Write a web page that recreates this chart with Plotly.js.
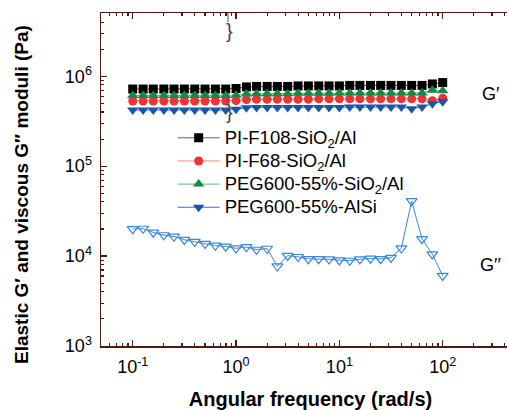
<!DOCTYPE html>
<html>
<head>
<meta charset="utf-8">
<script src="https://cdn.plot.ly/plotly-3.0.1.min.js"></script>
<style>
html,body{margin:0;padding:0;overflow:hidden;background:#fff;}
#chart{width:520px;height:410px;}
</style>
</head>
<body>
<div id="chart"></div>
<script>
// Angular frequency (rad/s)
const freq = [0.1, 0.126, 0.158, 0.2, 0.251, 0.316, 0.398, 0.501, 0.631, 0.794,
  1, 1.26, 1.58, 2, 2.51, 3.16, 3.98, 5.01, 6.31, 7.94,
  10, 12.6, 15.8, 20, 25.1, 31.6, 39.8, 50.1, 63.1, 79.4, 100];

// Elastic modulus G' (Pa)
const gF108 = [7.2e5, 7.2e5, 7.2e5, 7.2e5, 7.2e5, 7.2e5, 7.2e5, 7.2e5, 7.2e5, 7.2e5,
  7.3e5, 7.6e5, 7.7e5, 7.7e5, 7.7e5, 7.7e5, 7.8e5, 7.8e5, 7.8e5, 7.8e5,
  7.8e5, 7.9e5, 7.9e5, 7.9e5, 7.9e5, 7.9e5, 7.9e5, 7.9e5, 7.9e5, 8.2e5, 8.5e5];
const gF68 = [5.3e5, 5.3e5, 5.3e5, 5.3e5, 5.3e5, 5.3e5, 5.3e5, 5.3e5, 5.3e5, 5.3e5,
  5.35e5, 5.5e5, 5.55e5, 5.55e5, 5.55e5, 5.55e5, 5.55e5, 5.55e5, 5.6e5, 5.6e5,
  5.6e5, 5.6e5, 5.6e5, 5.6e5, 5.6e5, 5.6e5, 5.6e5, 5.6e5, 5.6e5, 5.35e5, 5.7e5];
const gPEGSiO2 = [6.1e5, 6.1e5, 6.1e5, 6.1e5, 6.1e5, 6.1e5, 6.1e5, 6.1e5, 6.1e5, 6.1e5,
  6.15e5, 6.35e5, 6.4e5, 6.4e5, 6.4e5, 6.4e5, 6.45e5, 6.45e5, 6.45e5, 6.45e5,
  6.5e5, 6.5e5, 6.5e5, 6.5e5, 6.5e5, 6.5e5, 6.5e5, 6.5e5, 6.5e5, 7.0e5, 6.9e5];
const gPEGAlSi = [4.2e5, 4.2e5, 4.2e5, 4.2e5, 4.2e5, 4.2e5, 4.2e5, 4.2e5, 4.2e5, 4.2e5,
  4.3e5, 4.45e5, 4.5e5, 4.5e5, 4.5e5, 4.5e5, 4.5e5, 4.5e5, 4.5e5, 4.5e5,
  4.5e5, 4.55e5, 4.55e5, 4.55e5, 4.55e5, 4.55e5, 4.55e5, 4.35e5, 4.55e5, 4.95e5, 5.2e5];

// Viscous modulus G'' (Pa), PEG600-55%-AlSi
const gppAlSi = [2.0e4, 2.02e4, 1.83e4, 1.71e4, 1.65e4, 1.52e4, 1.44e4, 1.37e4, 1.31e4, 1.28e4,
  1.22e4, 1.26e4, 1.18e4, 1.21e4, 7.7e3, 1.01e4, 9.8e3, 9.3e3, 9.3e3, 9.2e3,
  9.0e3, 8.9e3, 9.2e3, 9.4e3, 9.3e3, 9.6e3, 1.22e4, 4.1e4, 1.55e4, 1.05e4, 6.05e3];

const seriesNames = ['PI-F108-SiO<sub>2</sub>/Al', 'PI-F68-SiO<sub>2</sub>/Al',
  'PEG600-55%-SiO<sub>2</sub>/Al', 'PEG600-55%-AlSi'];

const xTickVals = [0.1, 1, 10, 100];
const xTickText = ['10<sup>-1</sup>', '10<sup>0</sup>', '10<sup>1</sup>', '10<sup>2</sup>'];
const yTickVals = [1e3, 1e4, 1e5, 1e6];
const yTickText = ['10<sup>3</sup>', '10<sup>4</sup>', '10<sup>5</sup>', '10<sup>6</sup>'];

function minorVals(lo, hi) {
  const v = [];
  for (let e = lo; e <= hi; e++) for (let m = 2; m <= 9; m++) v.push(m * Math.pow(10, e));
  return v;
}
const big = s => '<span style="font-size:18.5px">' + s + '</span>';

const axisColor = '#4a1c12';
const font = 'Liberation Sans, Arial, Helvetica, sans-serif';

const traces = [
  {x: freq, y: gF108, name: big(seriesNames[0]), mode: 'lines+markers',
   line: {color: '#7a5a4c', width: 1},
   marker: {symbol: 'square', size: 9, color: '#000000'}},
  {x: freq, y: gF68, name: big(seriesNames[1]), mode: 'lines+markers',
   line: {color: '#f28a78', width: 1},
   marker: {symbol: 'circle', size: 9, color: '#ee3333'}},
  {x: freq, y: gPEGSiO2, name: big(seriesNames[2]), mode: 'lines+markers',
   line: {color: '#5fb383', width: 1},
   marker: {symbol: 'triangle-up', size: 10, color: '#138a45'}},
  {x: freq, y: gPEGAlSi, name: big(seriesNames[3]), mode: 'lines+markers',
   line: {color: '#3d6fc0', width: 1},
   marker: {symbol: 'triangle-down', size: 10, color: '#1a55a8'}},
  {x: freq, y: gppAlSi, name: 'G″', showlegend: false, mode: 'lines+markers',
   line: {color: '#3b86d6', width: 1},
   marker: {symbol: 'triangle-down-open', size: 9.5, color: '#3b86d6', line: {width: 1.2}}}
];

const px = v => (v - 101) / 419;
const py = v => (346 - v) / 333;

const layout = {
  width: 520, height: 410,
  margin: {l: 101, r: 0, t: 13, b: 64},
  paper_bgcolor: '#ffffff', plot_bgcolor: '#ffffff',
  font: {family: font, color: '#000', size: 16},
  showlegend: true,
  legend: {x: 0.171, y: 0.675, xanchor: 'left', yanchor: 'top',
           bgcolor: 'rgba(0,0,0,0)', borderwidth: 0,
           font: {family: font, size: 15.5, color: '#000'},
           itemwidth: 42, tracegroupgap: 0},
  xaxis: {type: 'log', range: [Math.log10(0.0493), Math.log10(560)],
          showgrid: false, zeroline: false,
          showline: true, linecolor: axisColor, linewidth: 1.5, mirror: 'ticks',
          ticks: 'inside', ticklen: 6, tickwidth: 1.2, tickcolor: axisColor,
          tickmode: 'array', tickvals: xTickVals, ticktext: xTickText,
          tickfont: {family: font, size: 18, color: '#000'},
          ticklabelstandoff: 4,
          minor: {ticks: 'inside', ticklen: 3, tickwidth: 1.1, tickcolor: axisColor,
                  tickmode: 'array', tickvals: minorVals(-2, 2), showgrid: false},
          title: {text: '<b>Angular frequency (rad/s)</b>', standoff: 16,
                  font: {family: font, size: 20, color: '#000'}}},
  yaxis: {type: 'log', range: [3, 6.703],
          showgrid: false, zeroline: false,
          showline: true, linecolor: axisColor, linewidth: 1.5, mirror: 'ticks',
          ticks: 'inside', ticklen: 6, tickwidth: 1.2, tickcolor: axisColor,
          tickmode: 'array', tickvals: yTickVals, ticktext: yTickText,
          tickfont: {family: font, size: 18, color: '#000'},
          ticklabelstandoff: 4,
          minor: {ticks: 'inside', ticklen: 3, tickwidth: 1.1, tickcolor: axisColor,
                  tickmode: 'array', tickvals: minorVals(3, 6), showgrid: false}},
  shapes: [
    {type: 'line', xref: 'paper', yref: 'paper', x0: px(228), x1: px(228), y0: py(13), y1: py(22),
     line: {color: '#555', width: 1}},
    {type: 'line', xref: 'paper', yref: 'paper', x0: px(228), x1: px(228), y0: py(95), y1: py(103),
     line: {color: '#555', width: 1}}
  ],
  annotations: [
    {xref: 'paper', yref: 'paper', x: -0.1885, y: 0.4535, textangle: -90,
     xanchor: 'center', yanchor: 'middle',
     showarrow: false, text: '<b>Elastic G′ and viscous G′′ moduli (Pa)</b>',
     font: {family: font, size: 19, color: '#000'}},
    {xref: 'paper', yref: 'paper', x: px(491), y: py(94),
     xanchor: 'center', yanchor: 'middle',
     showarrow: false, text: 'G′', font: {family: font, size: 18, color: '#000'}},
    {xref: 'paper', yref: 'paper', x: px(490), y: py(265),
     xanchor: 'center', yanchor: 'middle',
     showarrow: false, text: 'G′′', font: {family: font, size: 18, color: '#000'}},
    {xref: 'paper', yref: 'paper', x: px(229.5), y: py(31),
     xanchor: 'center', yanchor: 'middle',
     showarrow: false, text: '}', font: {family: font, size: 20, color: '#444'}},
    {xref: 'paper', yref: 'paper', x: px(229.5), y: py(112),
     xanchor: 'center', yanchor: 'middle',
     showarrow: false, text: '}', font: {family: font, size: 20, color: '#444'}}
  ]
};

Plotly.newPlot('chart', traces, layout, {displayModeBar: false, staticPlot: true});
</script>
</body>
</html>
